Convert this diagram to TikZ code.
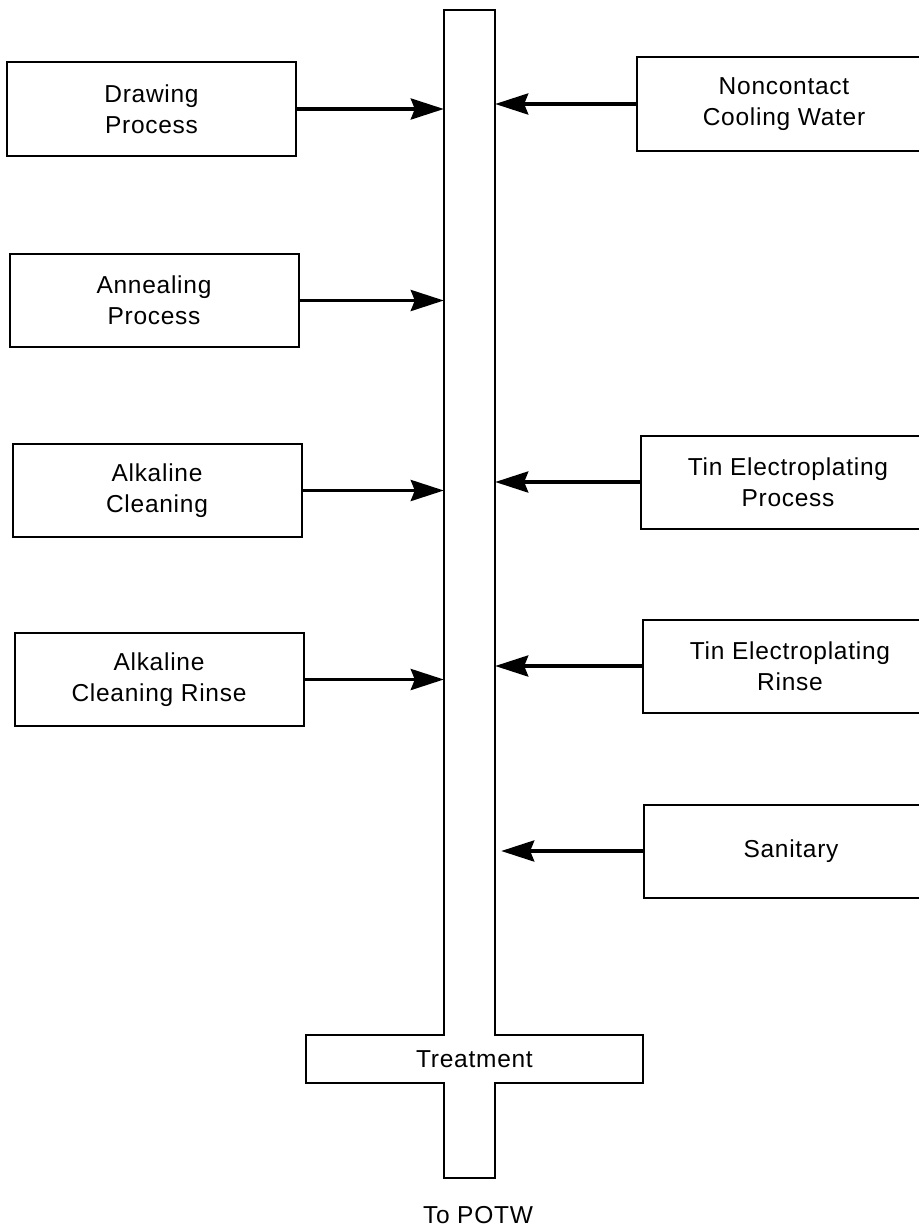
\documentclass[tikz,border=0pt]{standalone}
\usepackage{fontspec}
\setmainfont{Liberation Sans}[LetterSpace=3]
\usetikzlibrary{arrows.meta}
\begin{document}
\begin{tikzpicture}[x=1pt,y=-1pt,
    txt/.style={font=\fontsize{24.5}{31}\selectfont,align=center},
    box/.style={txt,draw,line width=2pt,minimum width=289pt,minimum height=93pt,inner sep=0pt},
    flow/.style={line width=3.6pt,-{Stealth[length=33pt,width=21pt,inset=4pt]}}]
  \useasboundingbox (0,0) rectangle (918,1228);
  % sources on the left
  \node[box] (drawing) at (151.5,109) {Drawing\\Process};
  \node[box] (anneal) at (154,300.5) {Annealing\\Process};
  \node[box] (alkclean) at (157,490.5) {Alkaline\\Cleaning};
  \node[box] (alkrinse) at (159,679.5) {Alkaline\\Cleaning Rinse};
  % sources on the right
  \node[box,anchor=west,minimum width=294pt] (cooling) at (636,104) {Noncontact\\Cooling Water};
  \node[box,anchor=west,minimum width=294pt] (tinproc) at (640,482) {Tin Electroplating\\Process};
  \node[box,anchor=west,minimum width=294pt] (tinrinse) at (642,666) {Tin Electroplating\\Rinse};
  \node[box,anchor=west,minimum width=294pt] (sanitary) at (643,851) {Sanitary};
  % pipe and treatment
  \node[minimum width=51pt,minimum height=1168pt,inner sep=0pt] (pipe) at (469.5,594) {};
  \node[txt,minimum width=337pt,minimum height=48pt,inner sep=0pt] (treat) at (474.5,1059) {Treatment};
  \node[txt] (potw) at (478,1215) {To POTW};
  \draw[line width=2pt]
    (pipe.north west) -- (pipe.north east) -- (pipe.east |- treat.north)
    -- (treat.north east) -- (treat.south east) -- (pipe.east |- treat.south)
    -- (pipe.south east) -- (pipe.south west) -- (pipe.west |- treat.south)
    -- (treat.south west) -- (treat.north west) -- (pipe.west |- treat.north)
    -- cycle;
  \begin{scope}[flow]
    \draw (drawing.east) -- (drawing.east -| pipe.west);
    \draw (anneal.east) -- (anneal.east -| pipe.west);
    \draw (alkclean.east) -- (alkclean.east -| pipe.west);
    \draw (alkrinse.east) -- (alkrinse.east -| pipe.west);
    \draw (cooling.west) -- (cooling.west -| pipe.east);
    \draw (tinproc.west) -- (tinproc.west -| pipe.east);
    \draw (tinrinse.west) -- (tinrinse.west -| pipe.east);
    \draw[shorten >=6pt] (sanitary.west) -- (sanitary.west -| pipe.east);
  \end{scope}
\end{tikzpicture}
\end{document}
